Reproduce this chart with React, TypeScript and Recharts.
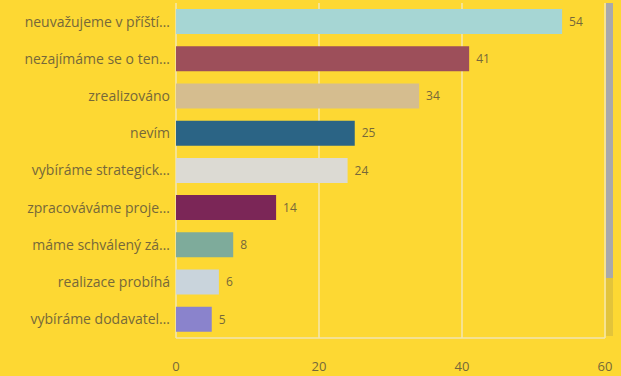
import * as React from 'react';
import { BarChart, Bar, XAxis, YAxis, CartesianGrid, Cell, LabelList } from 'recharts';

const categories = [
  'neuvažujeme v příští…',
  'nezajímáme se o ten…',
  'zrealizováno',
  'nevím',
  'vybíráme strategick…',
  'zpracováváme proje…',
  'máme schválený zá…',
  'realizace probíhá',
  'vybíráme dodavatel…',
];
const counts = [54, 41, 34, 25, 24, 14, 8, 6, 5];
const barColors = ['#a6d6d4', '#9d4f5a', '#d5bd8f', '#2b6485', '#dcdad3', '#7b2657', '#7eab9b', '#c9d4dc', '#8a83cc'];
const xTicks = [0, 20, 40, 60];

const data = categories.map((name, i) => ({ name, value: counts[i] }));

const textColor = '#76683a';

const App = () => {
  return (
    <div style={{ position: 'relative', width: 621, height: 376, background: '#fdd833', fontFamily: '"Open Sans", sans-serif' }}>
      <style>{'body{margin:0}'}</style>
      <BarChart
        width={621}
        height={376}
        data={data}
        layout="vertical"
        margin={{ top: 3, right: 16, left: 0, bottom: 0 }}
        barCategoryGap={12}
      >
        <CartesianGrid horizontal={false} stroke="#f3e7b0" strokeWidth={1.5} />
        <XAxis
          type="number"
          domain={[0, 60]}
          ticks={xTicks}
          tickLine={false}
          axisLine={{ stroke: '#f0e4b2', strokeWidth: 1.5 }}
          tickMargin={18}
          height={38}
          tick={{ fill: textColor, fontSize: 13 }}
        />
        <YAxis
          type="category"
          dataKey="name"
          width={176}
          tickLine={false}
          axisLine={false}
          tickMargin={0}
          tick={{ fill: textColor, fontSize: 14 }}
        />
        <Bar dataKey="value" barSize={25} isAnimationActive={false}>
          {data.map((d, i) => (
            <Cell key={d.name} fill={barColors[i]} />
          ))}
          <LabelList dataKey="value" position="right" offset={7} fill={textColor} fontSize={12} />
        </Bar>
      </BarChart>
      <div style={{ position: 'absolute', left: 606, top: 278, width: 7, height: 58, background: '#e3c43a' }} />
      <div style={{ position: 'absolute', left: 606, top: 3, width: 7, height: 275, background: '#a9a9ab' }} />
    </div>
  );
};

export default App;
